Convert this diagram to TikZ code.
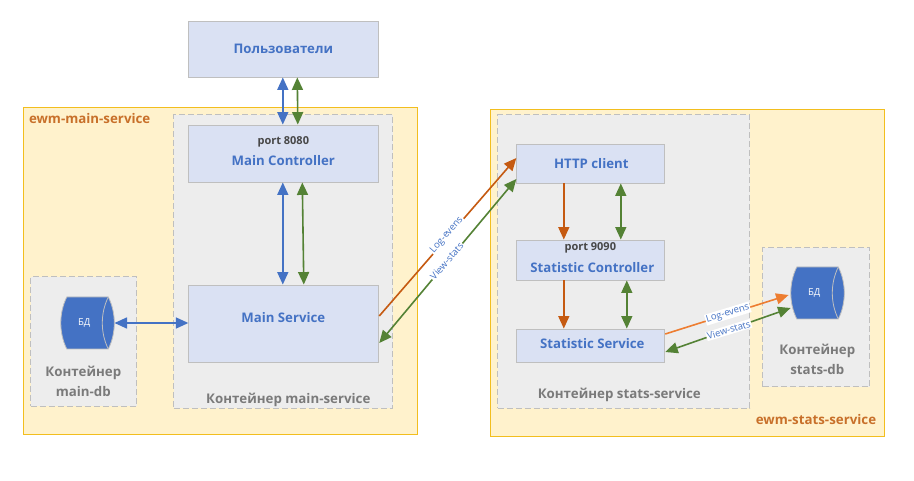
\documentclass[tikz,border=0pt]{standalone}
\usepackage{fontspec}
\setmainfont{Open Sans}
\usetikzlibrary{arrows.meta}
\definecolor{cyellow}{HTML}{FFF2CC}
\definecolor{cyedge}{HTML}{F2BE1E}
\definecolor{cgrey}{HTML}{EDEDED}
\definecolor{cdash}{HTML}{BFBFBF}
\definecolor{cbox}{HTML}{DAE1F3}
\definecolor{cblue}{HTML}{4472C4}
\definecolor{cgreen}{HTML}{548235}
\definecolor{cbrown}{HTML}{C55A11}
\definecolor{corange}{HTML}{ED7D31}
\definecolor{ctitle}{HTML}{C8702A}
\tikzset{
  zone/.style={draw=cyedge,fill=cyellow,line width=1pt,inner sep=0pt},
  cont/.style={draw=cdash,fill=cgrey,dash pattern=on 6pt off 3pt,line width=1pt,inner sep=0pt},
  box/.style={draw=cdash,fill=cbox,line width=0.9pt,inner sep=0pt},
  main/.style={font=\fontsize{13.2}{15}\selectfont\bfseries,text=cblue,inner sep=0pt},
  port/.style={font=\fontsize{11}{13}\selectfont\bfseries,text=black!72,inner sep=0pt},
  conttxt/.style={font=\fontsize{13.3}{19.5}\selectfont\bfseries,text=black!52,inner sep=0pt,align=center},
  zonetxt/.style={font=\fontsize{13.3}{15}\selectfont\bfseries,text=ctitle,inner sep=0pt},
  conn/.style={line width=1.6pt,-{Triangle[length=12.5pt,width=11pt]}},
  biconn/.style={line width=1.6pt,{Triangle[length=12.5pt,width=11pt]}-{Triangle[length=12.5pt,width=11pt]}},
  edgetxt/.style={font=\fontsize{9.5}{10}\selectfont,text=cblue,fill=white,inner xsep=1pt,inner ysep=1pt},
  dbshape/.style={fill=cblue,draw=cdash,line width=0.8pt},
  dbtxt/.style={font=\fontsize{9.5}{11}\selectfont,text=white,inner sep=0pt,minimum width=60pt,minimum height=52pt},
}
\newcommand{\dbdraw}[2]{%
  \path[dbshape] (#1+6,#2) -- (#1+47.5,#2)
    .. controls (#1+51.5,#2+8) and (#1+53.5,#2+17) .. (#1+53.5,#2+26)
    .. controls (#1+53.5,#2+35) and (#1+51.5,#2+44) .. (#1+47.5,#2+52)
    -- (#1+6,#2+52)
    .. controls (#1+2,#2+44) and (#1,#2+35) .. (#1,#2+26)
    .. controls (#1,#2+17) and (#1+2,#2+8) .. (#1+6,#2) -- cycle;
  \draw[draw=cdash,line width=0.8pt] (#1+47.5,#2)
    .. controls (#1+43.5,#2+8) and (#1+41.5,#2+17) .. (#1+41.5,#2+26)
    .. controls (#1+41.5,#2+35) and (#1+43.5,#2+44) .. (#1+47.5,#2+52);
}
\begin{document}
\begin{tikzpicture}[x=1pt,y=-1pt]
\useasboundingbox (0.2,0) rectangle (914.2,481);
\fill[white] (0,0) rectangle (915,481);
% zones
\node[zone,minimum width=394pt,minimum height=326pt] (zmain) at (221,271) {};
\node[zone,minimum width=394pt,minimum height=326pt] (zstats) at (688,273) {};
\node[cont,minimum width=219pt,minimum height=293pt] (cmain) at (283.5,261.5) {};
\node[cont,minimum width=252pt,minimum height=293pt] (cstats) at (624,261.5) {};
\node[cont,minimum width=106pt,minimum height=129pt] (cmdb) at (84,341.5) {};
\node[cont,minimum width=107pt,minimum height=139pt] (csdb) at (816.5,317.5) {};
% boxes
\node[box,minimum width=190pt,minimum height=56pt] (users) at (284,49) {};
\node[box,minimum width=190pt,minimum height=57pt] (mctrl) at (284,153.5) {};
\node[box,minimum width=190pt,minimum height=77pt] (msrv) at (284,323.5) {};
\node[box,minimum width=148pt,minimum height=39pt] (http) at (591,163.5) {};
\node[box,minimum width=148pt,minimum height=40pt] (sctrl) at (591,260) {};
\node[box,minimum width=148pt,minimum height=33pt] (ssrv) at (591,345.5) {};
% databases
\dbdraw{61}{297}
\dbdraw{791}{267}
\node[dbtxt] (db1) at (84.5,323) {БД};
\node[dbtxt] (db2) at (814.5,293) {БД};
% texts
\node[main] (tusers) at (283.5,49) {Пользователи};
\node[port] (p8080) at (283.5,142) {port 8080};
\node[main] (tmctrl) at (283.5,161) {Main Controller};
\node[main] (tmsrv) at (283.5,318) {Main Service};
\node[main] (thttp) at (591.5,164) {HTTP client};
\node[port] (p9090) at (590.5,248) {port 9090};
\node[main] (tsctrl) at (592.5,268) {Statistic Controller};
\node[main] (tssrv) at (592.5,344) {Statistic Service};
\node[conttxt] (lcm) at (288.5,400) {Контейнер main-service};
\node[conttxt] (lcs) at (619.5,394.5) {Контейнер stats-service};
\node[conttxt] (lcd1) at (83.5,381.5) {Контейнер\\main-db};
\node[conttxt] (lcd2) at (817.5,359.5) {Контейнер\\stats-db};
\node[zonetxt,anchor=west] (lz1) at (29,119) {ewm-main-service};
\node[zonetxt,anchor=east] (lz2) at (876.5,420) {ewm-stats-service};
% connectors
\draw[biconn,cblue] ([xshift=-1pt]users.south) -- ([xshift=-1pt]mctrl.north);
\draw[biconn,cgreen] ([xshift=13.5pt]users.south) -- ([xshift=14pt]mctrl.north);
\draw[biconn,cblue] ([xshift=-1pt]mctrl.south) -- ([xshift=-1pt]msrv.north);
\draw[biconn,cgreen] ([xshift=18.5pt]mctrl.south) -- ([xshift=20pt]msrv.north);
\draw[biconn,cblue] (db1.east) -- ([yshift=0.5pt]msrv.west);
\draw[conn,cbrown] ([yshift=7.5pt]msrv.east) -- ([yshift=5.5pt]http.west);
\draw[biconn,cgreen] ([yshift=-19.5pt]msrv.east) -- ([yshift=-15.5pt]http.west);
\draw[conn,cbrown] ([xshift=-27pt]http.south) -- ([xshift=-27pt]sctrl.north);
\draw[biconn,cgreen] ([xshift=30pt]http.south) -- ([xshift=30pt]sctrl.north);
\draw[conn,cbrown] ([xshift=-27pt]sctrl.south) -- ([xshift=-27pt]ssrv.north);
\draw[biconn,cgreen] ([xshift=36pt]sctrl.south) -- ([xshift=36pt]ssrv.north);
\draw[conn,corange] ([yshift=11.5pt]ssrv.east) -- ([yshift=-2pt,xshift=4.5pt]db2.west);
\draw[biconn,cgreen] ([yshift=-6.5pt]ssrv.east) -- ([yshift=-15pt,xshift=6.5pt]db2.west);
% connector labels
\node[edgetxt,rotate=49] (l1) at (447,235) {Log-evens};
\node[edgetxt,rotate=49] (l2) at (447,261) {View-stats};
\node[edgetxt,rotate=17] (l3) at (728,313.5) {Log-evens};
\node[edgetxt,rotate=17] (l4) at (729,330) {View-stats};
\end{tikzpicture}
\end{document}
